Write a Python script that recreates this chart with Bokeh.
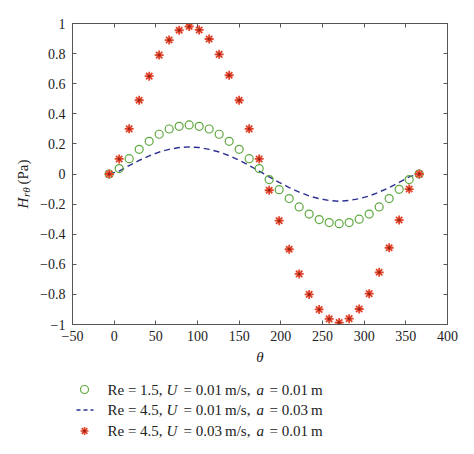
from math import pi
from bokeh.plotting import figure
from bokeh.models import Range1d, FixedTicker, LinearAxis
from bokeh.layouts import row, column
from bokeh.embed import file_html
from bokeh.resources import INLINE
from bokeh.core.properties import value

# ---- data ----
theta = [-6, 6, 18, 30, 42, 54, 66, 78, 90, 102, 114, 126, 138, 150, 162, 174,
         186, 198, 210, 222, 234, 246, 258, 270, 282, 294, 306, 318, 330, 342, 354, 366]
h_green = [0, 0.036, 0.102, 0.164, 0.217, 0.264, 0.299, 0.317, 0.326, 0.317, 0.299, 0.264,
           0.217, 0.164, 0.102, 0.036, -0.037, -0.104, -0.163, -0.219, -0.266, -0.303,
           -0.323, -0.330, -0.323, -0.300, -0.266, -0.219, -0.163, -0.102, -0.037, 0]
h_dash = [0, 0.019, 0.056, 0.090, 0.120, 0.146, 0.164, 0.176, 0.180, 0.176, 0.164, 0.146,
          0.122, 0.092, 0.057, 0.019, -0.019, -0.056, -0.090, -0.120, -0.146, -0.164,
          -0.176, -0.181, -0.176, -0.164, -0.146, -0.120, -0.090, -0.056, -0.019, 0]
h_red = [0, 0.10, 0.30, 0.49, 0.65, 0.79, 0.89, 0.955, 0.98, 0.957, 0.897, 0.795, 0.656,
         0.49, 0.30, 0.10, -0.108, -0.31, -0.50, -0.664, -0.80, -0.90, -0.963, -0.987,
         -0.961, -0.897, -0.795, -0.653, -0.49, -0.306, -0.10, 0]

x_ticks = [-50, 0, 50, 100, 150, 200, 250, 300, 350, 400]
x_tick_labels = ["\u221250", "0", "50", "100", "150", "200", "250", "300", "350", "400"]
y_ticks = [-1, -0.8, -0.6, -0.4, -0.2, 0, 0.2, 0.4, 0.6, 0.8, 1]
y_tick_labels = ["\u22121", "\u22120.8", "\u22120.6", "\u22120.4", "\u22120.2", "0",
                 "0.2", "0.4", "0.6", "0.8", "1"]

re_vals = ["1.5", "4.5", "4.5"]
u_vals = ["0.01", "0.01", "0.03"]
a_vals = ["0.01", "0.03", "0.01"]

FONT = "Liberation Serif"
AX = "#555555"
TXT = "#222222"
GREEN = "#5ea93e"
RED = "#e2452b"
BLUE = "#2e3192"

# page geometry (pixels)
PAGE_W, PAGE_H = 474, 454
YL_W = 34                       # strip holding the rotated y-axis title
MAIN_H = 374                    # main plot height; legend strip below
F_L, F_R, F_T, F_B = 72, 447, 23, 324   # frame box on the page

main_w = PAGE_W - YL_W
p = figure(width=main_w, height=MAIN_H, x_range=Range1d(-50, 400), y_range=Range1d(-1, 1),
           output_backend="svg", toolbar_location=None,
           min_border_left=F_L - YL_W, min_border_right=PAGE_W - F_R,
           min_border_top=F_T, min_border_bottom=MAIN_H - F_B)
p.xgrid.visible = False
p.ygrid.visible = False
p.outline_line_color = AX


def style_axis(ax, ticks, labels, show_labels=True):
    ax.ticker = FixedTicker(ticks=ticks)
    ax.major_label_overrides = dict(zip(ticks, labels))
    ax.axis_line_color = AX
    ax.major_tick_line_color = AX
    ax.major_tick_in = 4
    ax.major_tick_out = 0
    ax.minor_tick_in = 0
    ax.minor_tick_out = 0
    ax.minor_tick_line_color = None
    ax.major_label_text_font = FONT
    ax.major_label_text_color = TXT
    if show_labels:
        ax.major_label_text_font_size = "14px"
        ax.major_label_standoff = 6
    else:
        ax.major_label_text_font_size = "0px"
        ax.major_label_standoff = 0


style_axis(p.xaxis[0], x_ticks, x_tick_labels)
style_axis(p.yaxis[0], y_ticks, y_tick_labels)
p.yaxis[0].major_label_standoff = 7
p.xaxis[0].axis_label = "\u03b8"
p.xaxis[0].axis_label_text_font = FONT
p.xaxis[0].axis_label_text_font_style = "italic"
p.xaxis[0].axis_label_text_font_size = "15px"
p.xaxis[0].axis_label_text_color = TXT
p.xaxis[0].axis_label_standoff = 5

top = LinearAxis()
style_axis(top, x_ticks, [""] * len(x_ticks), show_labels=False)
p.add_layout(top, "above")
right = LinearAxis()
style_axis(right, y_ticks, [""] * len(y_ticks), show_labels=False)
p.add_layout(right, "right")

p.line(theta, h_dash, line_color=BLUE, line_dash="6 4", line_width=1.4)
p.scatter(theta, h_green, marker="circle", size=8, fill_color=None,
          line_color=GREEN, line_width=1.2)
p.scatter(theta, h_red, marker="asterisk", size=9, line_color=RED, line_width=1.8)
p.scatter(theta, h_red, marker="circle", size=3, fill_color="#9e2418", line_color=None)

# ---- strip with the rotated y-axis title  H_{r theta} (Pa) ----
yl = figure(width=YL_W, height=MAIN_H, x_range=Range1d(0, YL_W), y_range=Range1d(F_B, F_T),
            output_backend="svg", toolbar_location=None, x_axis_type=None, y_axis_type=None,
            min_border_left=0, min_border_right=0,
            min_border_top=F_T, min_border_bottom=MAIN_H - F_B)
yl.outline_line_color = None
yl.xgrid.visible = False
yl.ygrid.visible = False
yl.text(x=[22], y=[208], text=["H"], angle=pi / 2, text_font=value(FONT),
        text_font_size="15px", text_font_style="italic", text_align="left",
        text_baseline="middle", text_color=TXT)
yl.text(x=[25.5], y=[196.5], text=["r\u03b8"], angle=pi / 2, text_font=value(FONT),
        text_font_size="11px", text_font_style="italic", text_align="left",
        text_baseline="middle", text_color=TXT)
yl.text(x=[22], y=[184], text=["(Pa)"], angle=pi / 2, text_font=value(FONT),
        text_font_size="15px", text_align="left", text_baseline="middle", text_color=TXT)

# ---- legend strip (coordinates in page pixels) ----
leg_h = PAGE_H - MAIN_H
leg = figure(width=main_w, height=leg_h, x_range=Range1d(F_L, F_R),
             y_range=Range1d(PAGE_H, MAIN_H),
             output_backend="svg", toolbar_location=None, x_axis_type=None, y_axis_type=None,
             min_border_left=F_L - YL_W, min_border_right=PAGE_W - F_R,
             min_border_top=0, min_border_bottom=0)
leg.outline_line_color = None
leg.xgrid.visible = False
leg.ygrid.visible = False

rows = [389, 409.5, 430.5]
mx = 84
leg.scatter([mx], [rows[0]], marker="circle", size=8, fill_color=None,
            line_color=GREEN, line_width=1.2)
leg.segment(x0=[mx - 8], y0=[rows[1]], x1=[mx + 9], y1=[rows[1]],
            line_color=BLUE, line_dash="4 3", line_width=1.3)
leg.scatter([mx], [rows[2]], marker="asterisk", size=8, line_color=RED, line_width=1.6)
leg.scatter([mx], [rows[2]], marker="circle", size=3, fill_color="#9e2418", line_color=None)

seg_x = [107, 166, 183, 256, 269]
up_x, up_y, up_t = [], [], []
it_x, it_y, it_t = [], [], []
for i in range(3):
    y = rows[i]
    up_x += [seg_x[0], seg_x[2], seg_x[4]]
    up_y += [y, y, y]
    up_t += ["Re = " + re_vals[i] + ",",
             "= " + u_vals[i] + "\u2009m/s,",
             "= " + a_vals[i] + "\u2009m"]
    it_x += [seg_x[1], seg_x[3]]
    it_y += [y, y]
    it_t += ["U", "a"]

leg.text(x=up_x, y=up_y, text=up_t, text_font=value(FONT), text_font_size="15px",
         text_baseline="middle", text_align="left", text_color=TXT)
leg.text(x=it_x, y=it_y, text=it_t, text_font=value(FONT), text_font_size="15px",
         text_font_style="italic", text_baseline="middle", text_align="left",
         text_color=TXT)

layout = row(yl, column(p, leg, spacing=0), spacing=0)
open("out.html", "w").write(file_html(layout, INLINE))
